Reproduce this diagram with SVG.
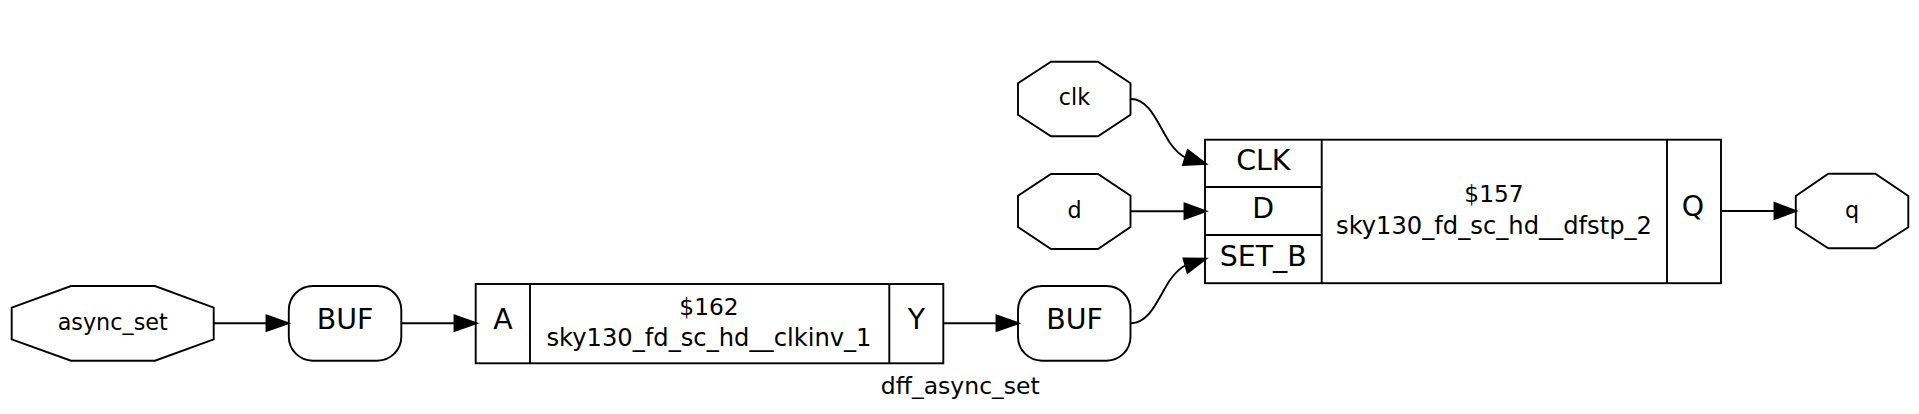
<svg xmlns="http://www.w3.org/2000/svg" width="1919" height="414" viewBox="0 0 1919 414">
<defs>
<style>
.s{fill:none;stroke:#000;stroke-width:1.9}
.e{fill:none;stroke:#000;stroke-width:1.9}
.h{fill:#000;stroke:#000;stroke-width:1.9}
text{font-family:"DejaVu Sans",sans-serif;fill:#000;text-anchor:middle}
.p{font-size:22.3px}
.t{font-size:23.3px}
.n{font-size:24.2px}
.b{font-size:28.4px}
.g{font-size:23.5px}
</style>
</defs>
<rect width="1919" height="414" fill="#fff"/>
<g id="connectors">
<path class="e" d="M213.7,323.3H270"/><polygon class="h" points="266.5,315.5 288.5,323.3 266.5,331"/>
<path class="e" d="M401.5,323.3H458"/><polygon class="h" points="454.5,315.5 476.5,323.3 454.5,331"/>
<path class="e" d="M943.5,323.3H1000"/><polygon class="h" points="996.5,315.5 1018.5,323.3 996.5,331"/>
<path class="e" d="M1131,99C1150,99 1158,125 1170,143C1175,150 1180,155 1186,158"/><polygon class="h" points="1187.7,150 1206,164 1183,165"/>
<path class="e" d="M1131,211.3H1188"/><polygon class="h" points="1184.5,203.5 1206,211.3 1184.5,219"/>
<path class="e" d="M1131,323.3C1150,323.3 1158,298 1170,280C1175,273 1180,268 1186,265"/><polygon class="h" points="1183.5,258.5 1206,258.7 1187.5,272.8"/>
<path class="e" d="M1721.5,211H1778"/><polygon class="h" points="1774.5,203 1796,211 1774.5,219"/>
</g>
<g id="async_set"><polygon class="s" points="71,286 155,286 213.7,307.7 213.7,339.3 155,360.7 71,360.7 11.7,339.3 11.7,307.7"/><text class="p" x="112.7" y="330">async_set</text></g>
<g id="buf1"><rect class="s" x="288.8" y="286" width="112.5" height="74.7" rx="24" ry="24"/><text class="b" x="345" y="329">BUF</text></g>
<g id="cell162"><rect class="s" x="475.7" y="284" width="467.6" height="79.3"/><path class="s" d="M530,284V363.3M889.3,284V363.3"/>
<text class="b" x="503" y="329">A</text><text class="t" x="709" y="314.5">$162</text><text class="n" x="709" y="345.5">sky130_fd_sc_hd__clkinv_1</text><text class="b" x="916.5" y="329">Y</text></g>
<g id="buf2"><rect class="s" x="1018" y="286" width="112.5" height="74.7" rx="24" ry="24"/><text class="b" x="1074.5" y="329">BUF</text></g>
<g id="clk"><polygon class="s" points="1051,61.7 1098,61.7 1130.5,83.3 1130.5,114.7 1098,136.3 1051,136.3 1018,114.7 1018,83.3"/><text class="p" x="1074.5" y="105">clk</text></g>
<g id="d"><polygon class="s" points="1051,174 1098,174 1130.5,195.7 1130.5,227 1098,249 1051,249 1018,227 1018,195.7"/><text class="p" x="1074.5" y="217.5">d</text></g>
<g id="cell157"><rect class="s" x="1205" y="139.7" width="516" height="143.5"/><path class="s" d="M1321.7,139.7V283.2M1667,139.7V283.2M1205,187H1321.7M1205,235H1321.7"/>
<text class="b" x="1263.3" y="169.5">CLK</text><text class="b" x="1263.3" y="217.5">D</text><text class="b" x="1263.3" y="265.5">SET_B</text><text class="t" x="1494" y="202">$157</text><text class="n" x="1494" y="233.8">sky130_fd_sc_hd__dfstp_2</text><text class="b" x="1693" y="216">Q</text></g>
<g id="q"><polygon class="s" points="1828.3,173.7 1875.3,173.7 1908.3,196 1908.3,227.3 1875.3,248.3 1828.3,248.3 1795.8,227.3 1795.8,196"/><text class="p" x="1852" y="217.5">q</text></g>
<text id="label" class="g" x="960.3" y="394">dff_async_set</text>
</svg>
